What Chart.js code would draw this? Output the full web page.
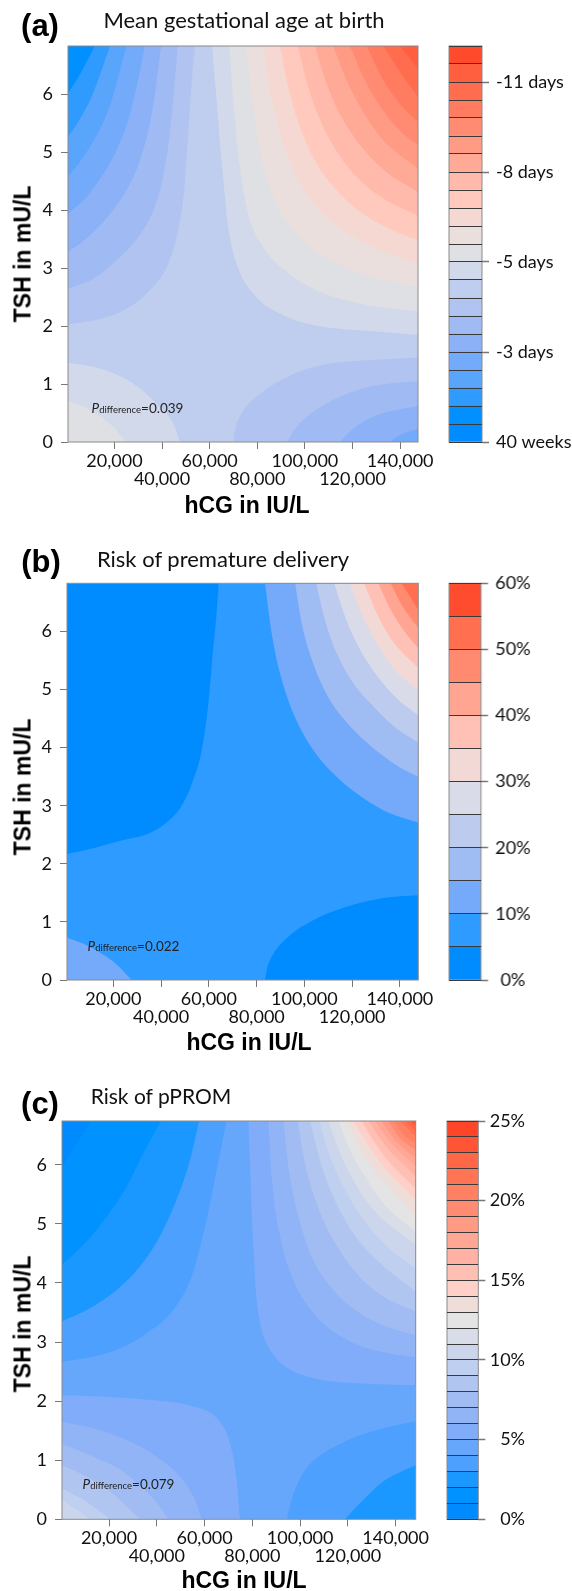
<!DOCTYPE html>
<html><head><meta charset="utf-8">
<script src="https://cdn.jsdelivr.net/npm/chart.js@4"></script>
<style>
html,body{margin:0;padding:0;background:#fff;width:572px;height:1591px;overflow:hidden}
canvas{position:absolute}
.t{position:absolute;white-space:nowrap;color:#111;transform:translate(-50%,-50%)}
.letter{font:bold 31px "Liberation Sans";color:#000}
.title{font:22px Lato;color:#111}
.axis{font:bold 23px "Liberation Sans";color:#000}
.pd{font:13.5px Lato;color:#222}
.pd small{font-size:9.5px}
</style></head><body>
<script>
// Tick values and labels
const hcgTicks=[20000,40000,60000,80000,100000,120000,140000];
const hcgLabels=['20,000','40,000','60,000','80,000','100,000','120,000','140,000'];
const tshTicks=[0,1,2,3,4,5,6];

// Colour keys, bottom to top
const aColors=['#008cff','#0090ff','#2f9bff','#5aa5fc','#74aafa','#8cb1f6','#a0bbf3','#b1c3f1','#bfcdee','#d2d9ea','#dfe0e3','#eadfdd','#f5d8d2','#ffc9be','#ffbaac','#ffa997','#ff9a85','#ff8b72','#ff7c60','#ff6d4e','#ff5e3f','#ff4a2c'];
const bColors=['#008cff','#2d9bff','#74aaf9','#9fbcf3','#bccbee','#d9dce8','#f2d9d6','#ffc1b5','#ffa592','#ff8a70','#ff6f50','#ff4c2e'];
const cColors=['#008aff','#0092ff','#1a98ff','#4ea0ff','#66a7fc','#81acf9','#91b4f6','#a1bcf3','#b0c6f1','#bfcfef','#cbd5ec','#d8dde8','#e4e4e4','#eeddd9','#ffd0c8','#ffbfb3','#ffb2a3','#ffa695','#ff9a84','#ff8b72','#ff8063','#ff7455','#ff6747','#ff5536','#ff4528'];
const aKeyTicks=['40 weeks','-3 days','-5 days','-8 days','-11 days'];
const bKeyTicks=['0%','10%','20%','30%','40%','50%','60%'];
const cKeyTicks=['0%','5%','10%','15%','20%','25%'];

// Contours: [band index, [[hCG in thousands IU/L, TSH in mU/L], ...]]
const aUpperLeft=[
[7,[[0.5,2.03],[12.5,2.11],[25.1,2.30],[34.9,2.62],[42.6,3.08],[46.8,3.66],[49.4,4.40],[51,5.33],[52.4,6.19],[53.8,6.84]]],
[6,[[0.5,2.65],[11.1,2.82],[20.9,3.14],[30,3.54],[36.3,4.0],[40.5,4.58],[43.3,5.33],[45,6.07],[46.6,6.84]]],
[5,[[0.5,3.28],[9,3.54],[18.1,3.94],[25.1,4.35],[30.7,4.86],[34.9,5.5],[37.5,6.13],[39.6,6.84]]],
[4,[[0.5,3.94],[8.3,4.23],[15.3,4.63],[20.9,5.04],[25.8,5.56],[29.3,6.13],[32.8,6.84]]],
[3,[[0.5,4.59],[6.9,4.92],[13.2,5.35],[18.1,5.81],[21.6,6.30],[25.1,6.84]]],
[2,[[0.5,5.27],[5.5,5.58],[10.4,5.96],[14.6,6.42],[18.1,6.84]]],
[1,[[0.5,6.02],[4.8,6.30],[8.6,6.59],[11.8,6.84]]]];
const aUpperRight=[
[9,[[61,6.84],[62.9,5.90],[65,4.86],[67.8,3.71],[71.3,3.08],[78.3,2.56],[90.9,2.19],[104.9,2.01],[125.9,1.92],[147.5,1.85]]],
[10,[[68.3,6.84],[69.9,5.90],[72.7,4.75],[76.2,3.94],[82.5,3.37],[92.3,2.94],[104.9,2.62],[123.1,2.39],[147.5,2.26]]],
[11,[[75.3,6.84],[77.7,5.96],[81.1,5.04],[86.7,4.23],[95.1,3.66],[106.3,3.25],[120.3,2.96],[134.3,2.79],[147.5,2.68]]],
[12,[[82.5,6.84],[85.3,6.07],[90.2,5.27],[96.5,4.58],[104.9,4.06],[116.1,3.66],[130.1,3.34],[147.5,3.08]]],
[13,[[89.5,6.84],[93,6.13],[97.9,5.44],[104.9,4.81],[113.3,4.35],[124.5,3.94],[135.7,3.68],[147.5,3.48]]],
[14,[[97,6.84],[101.4,6.13],[107,5.50],[114,4.98],[123.1,4.52],[134.3,4.17],[147.5,3.91]]],
[15,[[104.2,6.84],[109.1,6.19],[115.4,5.61],[123.8,5.10],[134.3,4.66],[147.5,4.32]]],
[16,[[111.9,6.84],[117.5,6.25],[124.5,5.70],[132.9,5.21],[147.5,4.72]]],
[17,[[118.9,6.84],[125.2,6.25],[132.2,5.76],[139.9,5.38],[147.5,5.12]]],
[18,[[125.9,6.84],[132.2,6.30],[139.9,5.84],[147.5,5.53]]],
[19,[[132.9,6.84],[139.9,6.39],[147.5,5.96]]],
[20,[[139.9,6.84],[147.5,6.45]]]];
const aLowerRight=[
[7,[[69.9,0],[70.6,0.20],[73.4,0.49],[79.7,0.78],[92.3,1.12],[106.3,1.32],[125.9,1.41],[147.5,1.46]]],
[6,[[92.3,0],[96.5,0.26],[106.3,0.60],[117.5,0.83],[130.1,0.98],[147.5,1.05]]],
[5,[[114.7,0],[120.3,0.23],[130.1,0.46],[147.5,0.62]]],
[4,[[135.7,0],[139.9,0.12],[147.5,0.23]]]];
const aLowerLeft=[
[9,[[0.5,1.37],[13.9,1.27],[27.9,1.01],[37.7,0.66],[44.7,0.32],[47.5,0]]],
[10,[[0.5,0.72],[11.1,0.52],[19.5,0.26],[24.9,0]]],
[11,[[0.5,0.04],[1.6,0]]]];

const bUpperLeft=[
[0,[[0.6,2.17],[11.6,2.27],[24.2,2.41],[34,2.51],[42.3,2.71],[48.6,3.0],[52.8,3.37],[57,3.95],[59.8,4.76],[61.9,5.74],[63.2,6.3],[64.1,6.83]]]];
const bUpperRight=[
[2,[[83.5,6.83],[86.3,5.97],[89.8,5.28],[95.4,4.59],[103.7,3.96],[113.5,3.50],[124.7,3.13],[135.8,2.87],[147.7,2.71]]],
[3,[[96.1,6.83],[98.9,6.14],[103.7,5.45],[110.7,4.82],[120.5,4.31],[131.7,3.90],[140,3.66],[147.7,3.50]]],
[4,[[104.9,6.83],[108.6,6.20],[113.5,5.63],[120.5,5.11],[128.9,4.71],[138.6,4.33],[147.7,4.09]]],
[5,[[112.5,6.83],[117,6.26],[122.6,5.74],[129.6,5.28],[138.6,4.85],[147.7,4.56]]],
[6,[[119.1,6.83],[124,6.31],[130.3,5.80],[137.9,5.34],[147.7,4.98]]],
[7,[[125,6.83],[130.3,6.31],[136.5,5.86],[147.7,5.37]]],
[8,[[131,6.83],[135.8,6.40],[141.4,6.03],[147.7,5.71]]],
[9,[[136.1,6.83],[140.7,6.46],[147.7,6.06]]],
[10,[[140.7,6.83],[147.7,6.37]]]];
const bLowerRight=[
[0,[[83.5,0],[84.2,0.17],[86.3,0.40],[92.6,0.72],[103.7,1.03],[117.7,1.26],[133,1.41],[147.7,1.46]]]];
const bLowerLeft=[
[2,[[0.6,0.73],[10.2,0.57],[20,0.32],[27.7,0]]]];

const cUpperLeft=[
[3,[[0.3,2.67],[10.6,2.73],[23.2,2.87],[35.8,3.15],[46.9,3.54],[54.6,4.11],[60.2,4.95],[65.1,5.91],[69.2,6.74]]],
[2,[[0.3,3.35],[12,3.57],[23.2,3.88],[33,4.28],[41.3,4.79],[48.3,5.41],[53.9,6.08],[57.7,6.74]]],
[1,[[0.3,4.31],[9.2,4.64],[19,5.12],[27.4,5.63],[34.4,6.20],[41.8,6.74]]],
[0,[[0.3,5.97],[5.7,6.31],[12.7,6.74]]]];
const cUpperRight=[
[5,[[78.3,6.74],[79,6.08],[79.7,5.24],[80.7,4.39],[81.8,3.71],[83.9,3.21],[87.4,2.87],[93,2.61],[102.7,2.42],[113.9,2.33],[130.7,2.29],[148.4,2.27]]],
[6,[[86.7,6.74],[88.1,5.80],[91.6,4.79],[97.2,4.05],[106.9,3.43],[119.5,3.04],[133.4,2.84],[148.4,2.74]]],
[7,[[93,6.74],[95.1,5.97],[99.3,5.12],[105.5,4.39],[113.9,3.88],[125,3.49],[136.2,3.26],[148.4,3.12]]],
[8,[[99,6.74],[102,6.03],[106.9,5.35],[113.9,4.73],[123.7,4.16],[134.8,3.77],[148.4,3.52]]],
[9,[[104.1,6.74],[108.3,6.08],[113.9,5.46],[122.3,4.84],[132,4.39],[148.4,3.85]]],
[10,[[108,6.74],[112.5,6.14],[118.8,5.58],[126.5,5.07],[136.2,4.62],[148.4,4.25]]],
[11,[[111.8,6.74],[116.7,6.20],[123,5.69],[130.7,5.24],[148.4,4.64]]],
[12,[[116,6.74],[120.9,6.25],[127.2,5.80],[134.8,5.35],[148.4,4.87]]],
[13,[[119.5,6.74],[125,6.28],[131.3,5.89],[138.3,5.58],[148.4,5.12]]],
[14,[[122.3,6.74],[127.9,6.37],[134.8,5.97],[148.4,5.41]]],
[15,[[125.8,6.74],[131.3,6.37],[137.6,6.03],[148.4,5.60]]],
[16,[[128.6,6.74],[134.8,6.37],[148.4,5.80]]],
[17,[[131.4,6.74],[137,6.42],[148.4,5.97]]],
[18,[[134.1,6.74],[139.7,6.42],[148.4,6.11]]],
[19,[[136.9,6.74],[141.8,6.45],[148.4,6.25]]],
[20,[[139.3,6.74],[143.2,6.51],[148.4,6.37]]],
[21,[[141.8,6.74],[148.4,6.48]]],
[22,[[143.9,6.74],[148.4,6.56]]],
[23,[[146,6.74],[148.4,6.65]]]];
const cLowerRight=[
[3,[[94.4,0],[95.5,0.2],[97.9,0.5],[101.5,0.8],[106.5,1.02],[116.7,1.28],[132,1.51],[148.4,1.66]]],
[2,[[118.8,0],[125,0.27],[134.8,0.64],[148.4,0.92]]]];
const cLowerLeft=[
[5,[[0.3,2.10],[16.2,2.08],[37.1,2.02],[55.3,1.91],[65.1,1.71],[70.6,1.29],[73.4,0.67],[74.8,0]]],
[6,[[0.3,1.65],[13.4,1.54],[27.4,1.34],[40,1.06],[49.7,0.72],[56,0.33],[58.8,0]]],
[7,[[0.3,1.28],[13.4,1.06],[24.6,0.84],[34.4,0.52],[41.3,0.21],[44.8,0]]],
[8,[[0.3,0.92],[10.6,0.72],[20.4,0.47],[28.1,0.19],[33,0]]],
[9,[[0.3,0.52],[9.2,0.33],[16.2,0.13],[20.4,0]]],
[10,[[0.3,0.33],[6.4,0.16],[12,0]]]];

// Layout of the three panels
const panels=[
 {letter:'(a)',lx:40,ly:26,title:'Mean gestational age at birth',tx:244,ty:19,tf:22,px:137.5,py:408,pv:'=0.039',
  xt:[247,505],yt:[23,254],xMin:500,xMax:147500,yMax:6.84,rect:[68,46,418,442],key:[449,46,482,442],keyEnd:572,
  base:8,colors:aColors,ul:aUpperLeft,ur:aUpperRight,lr:aLowerRight,ll:aLowerLeft,
  keyLabels:aKeyTicks,keyMax:22,keyBand:1,labelEvery:5,align:'near'},
 {letter:'(b)',lx:41,ly:562,title:'Risk of premature delivery',tx:223,ty:558,tf:22,px:133.5,py:946,pv:'=0.022',
  xt:[249,1042],yt:[23,787],xMin:600,xMax:147700,yMax:6.83,rect:[67,583.3,418.3,980],key:[449.3,583.3,481.7,980],keyEnd:572,
  base:1,colors:bColors,ul:bUpperLeft,ur:bUpperRight,lr:bLowerRight,ll:bLowerLeft,
  keyLabels:bKeyTicks,keyMax:60,keyBand:5,labelEvery:10,align:'center'},
 {letter:'(c)',lx:40,ly:1104,title:'Risk of pPROM',tx:161,ty:1095,tf:21,px:128.5,py:1484,pv:'=0.079',
  xt:[244,1580],yt:[23,1324],xMin:300,xMax:148400,yMax:6.74,rect:[62,1121,415.7,1519.3],key:[446.7,1121,478.3,1519.3],keyEnd:525,
  base:4,colors:cColors,ul:cUpperLeft,ur:cUpperRight,lr:cLowerRight,ll:cLowerLeft,
  keyLabels:cKeyTicks,keyMax:25,keyBand:1,labelEvery:5,align:'far'}
];

Chart.defaults.animation=false;
Chart.defaults.responsive=false;
Chart.defaults.devicePixelRatio=1;
Chart.defaults.font.family='Lato';
Chart.defaults.color='#111';

function text(cls,html,x,y,rot,size){
  const d=document.createElement('div');d.className='t '+cls;d.innerHTML=html;
  d.style.left=x+'px';d.style.top=y+'px';
  if(size)d.style.fontSize=size+'px';
  if(rot)d.style.transform='translate(-50%,-50%) rotate(-90deg)';
  document.body.appendChild(d);
}
function canvas(l,t,w,h){
  const c=document.createElement('canvas');c.width=w;c.height=h;
  c.style.left=l+'px';c.style.top=t+'px';c.style.width=w+'px';c.style.height=h+'px';
  document.body.appendChild(c);return c;
}
const frame=col=>({id:'frame',afterDatasetsDraw(ch){
  const a=ch.chartArea,g=ch.ctx;g.save();g.strokeStyle=col;g.lineWidth=1;
  g.strokeRect(a.left,a.top,a.right-a.left,a.bottom-a.top);g.restore();}});
const noPad=s=>{s.paddingTop=s.paddingBottom=s.paddingLeft=s.paddingRight=0;};

// Chart.js paints the first dataset last, so the innermost contour comes first.
function contourSets(p){
  const mk=(group,fill)=>group.map(([band,pts])=>({
    data:pts.map(([x,y])=>({x:x*1000,y})),
    showLine:true,pointRadius:0,borderWidth:0,borderColor:'transparent',
    backgroundColor:p.colors[band],fill,cubicInterpolationMode:'monotone'}));
  const base={data:[{x:p.xMin,y:p.yMax},{x:p.xMax,y:p.yMax}],showLine:true,pointRadius:0,borderWidth:0,
    borderColor:'transparent',backgroundColor:p.colors[p.base],fill:'start'};
  return [base,...mk(p.ul,'end'),...mk(p.ur,'end'),...mk(p.ll,'start'),...mk(p.lr,'start')].reverse();
}

panels.forEach(p=>{
  const [L,T,R,B]=p.rect, cT=Math.floor(T)-12, cH=Math.ceil(B)+62-cT, cW=452;
  new Chart(canvas(0,cT,cW,cH),{type:'scatter',
    data:{datasets:contourSets(p)},
    options:{layout:{padding:{top:T-cT,right:cW-R,left:0,bottom:0}},
      plugins:{legend:{display:false},tooltip:{enabled:false}},
      scales:{
        x:{type:'linear',min:p.xMin,max:p.xMax,
          afterBuildTicks:s=>{s.ticks=hcgTicks.map(v=>({value:v}));},
          afterFit:s=>{s.height=cT+cH-B;noPad(s);},
          border:{display:false},
          grid:{drawOnChartArea:false,tickLength:7,color:'#777',tickWidth:1},
          ticks:{autoSkip:false,maxRotation:0,padding:3,font:{size:18,lineHeight:1},
            callback:(v)=>{const i=hcgTicks.indexOf(v);return i%2?['',hcgLabels[i]]:[hcgLabels[i]];}}},
        y:{type:'linear',min:0,max:p.yMax,
          afterBuildTicks:s=>{s.ticks=tshTicks.map(v=>({value:v}));},
          afterFit:s=>{s.width=L;noPad(s);},
          border:{display:false},
          grid:{drawOnChartArea:false,tickLength:7,color:'#777',tickWidth:1},
          ticks:{autoSkip:false,padding:8,font:{size:18},callback:v=>String(v)}}
      }},plugins:[frame('#8a8a8a')]});

  // colour key
  const [kL,kT,kR,kB]=p.key, k0=kL-6, kTop=Math.floor(kT)-14, kW=572-k0, kH=Math.ceil(kB)+16-kTop;
  const n=p.keyMax/p.keyBand;
  new Chart(canvas(k0,kTop,kW,kH),{type:'bar',
    data:{labels:['key'],datasets:p.colors.map(c=>({data:[p.keyBand],backgroundColor:c,borderWidth:0,
      stack:'k',categoryPercentage:1,barPercentage:1}))},
    options:{layout:{padding:{top:kT-kTop,left:kL-k0,bottom:kTop+kH-kB,right:572-p.keyEnd}},
      plugins:{legend:{display:false},tooltip:{enabled:false}},
      scales:{
        x:{display:false,stacked:true},
        y:{position:'right',stacked:true,min:0,max:p.keyMax,
          afterBuildTicks:s=>{s.ticks=Array.from({length:n+1},(_,i)=>({value:i*p.keyBand}));},
          afterFit:s=>{s.width=p.keyEnd-kR;noPad(s);},
          border:{display:false},
          grid:{z:1,color:'#3a3a3a',lineWidth:1,tickLength:7,tickWidth:1.5,
            tickColor:c=>c.tick.value%p.labelEvery===0?'#777':'transparent'},
          ticks:{autoSkip:false,padding:7,crossAlign:p.align,font:{size:18},
            callback:v=>v%p.labelEvery===0?p.keyLabels[v/p.labelEvery]:''}}
      }},plugins:[frame('#8a8a8a')]});

  text('letter',p.letter,p.lx,p.ly);
  text('title',p.title,p.tx,p.ty,false,p.tf);
  text('axis','hCG in IU/L',p.xt[0],p.xt[1]);
  text('axis','TSH in mU/L',p.yt[0],p.yt[1],true);
  text('pd','<i>P</i><small>difference</small>'+p.pv,p.px,p.py);
});
</script>
</body></html>
